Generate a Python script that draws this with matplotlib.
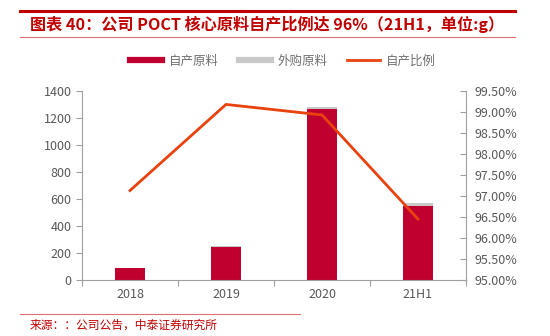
import matplotlib.pyplot as plt
import numpy as np
from matplotlib.lines import Line2D

plt.rcParams['font.family'] = ['Noto Sans CJK SC', 'DejaVu Sans']

# 数据
categories = ['2018', '2019', '2020', '21H1']
self_made = [89, 248, 1265, 548]      # 自产原料
purchased = [3, 2, 14, 20]            # 外购原料
self_ratio = [97.13, 99.18, 98.93, 96.45]  # 自产比例 %

red = '#C0002E'
grey = '#C9C9C9'
orange = '#E8420E'
txt = '#595959'

fig = plt.figure(figsize=(5.5, 3.36), dpi=100)
ax = fig.add_axes([82/550, 56/336, 384/550, 189/336])
x = np.arange(len(categories))
ax.bar(x, self_made, width=0.32, color=red, zorder=2)
ax.bar(x, purchased, width=0.32, bottom=self_made, color=grey, zorder=2)
ax.set_xlim(-0.5, 3.5)
ax.set_ylim(0, 1400)
ax.set_yticks(range(0, 1401, 200))
ax.set_xticks(np.arange(-0.5, 4, 1))
ax.set_xticklabels([])
ax.set_xticks(x, minor=True)
ax.set_xticklabels(categories, minor=True)
ax.tick_params(axis='x', which='minor', length=0, pad=6, labelsize=9, labelcolor=txt)
ax.tick_params(axis='x', which='major', length=4, color='#A0A0A0')
ax.tick_params(axis='y', length=4, color='#A0A0A0', labelsize=9, labelcolor=txt)
for s in ['top', 'right']:
    ax.spines[s].set_visible(False)
for s in ['left', 'bottom']:
    ax.spines[s].set_color('#A0A0A0')

ax2 = ax.twinx()
ax2.plot(x, self_ratio, color=orange, lw=2, zorder=3)
ax2.set_ylim(95, 99.5)
ax2.set_yticks(np.arange(95, 99.51, 0.5))
ax2.set_yticklabels(['%.2f%%' % v for v in np.arange(95, 99.51, 0.5)])
ax2.tick_params(axis='y', direction='in', length=4, color='#A0A0A0', labelsize=9, labelcolor=txt, pad=6)
for s in ['top', 'left', 'bottom']:
    ax2.spines[s].set_visible(False)
ax2.spines['right'].set_color('#A0A0A0')

handles = [Line2D([], [], color=red, lw=4.5),
           Line2D([], [], color=grey, lw=4.5),
           Line2D([], [], color=orange, lw=2)]
fig.legend(handles, ['自产原料', '外购原料', '自产比例'], loc='center', bbox_to_anchor=(283/550, 1 - 61/336),
           ncol=3, frameon=False, fontsize=9, labelcolor='#707070', handlelength=2.6, columnspacing=1.6, handletextpad=0.5)

# 标题和来源
fig.add_artist(Line2D([20/550, 515/550], [1 - 11/336, 1 - 11/336], color='#C00000', lw=2.2))
fig.add_artist(Line2D([20/550, 515/550], [1 - 37/336, 1 - 37/336], color='#E07070', lw=0.8))
fig.text(30/550, 1 - 24/336, '图表 40：公司 POCT 核心原料自产比例达 96%（21H1，单位:g）',
         color='#C00000', fontsize=11.6, fontweight='bold', va='center')
fig.add_artist(Line2D([20/550, 300/550], [1 - 314/336, 1 - 314/336], color='#E07070', lw=0.8))
fig.text(30/550, 1 - 325/336, '来源：：公司公告，中泰证券研究所', color='#C00000', fontsize=8.5, va='center')

fig.savefig('out.png', dpi=100)
